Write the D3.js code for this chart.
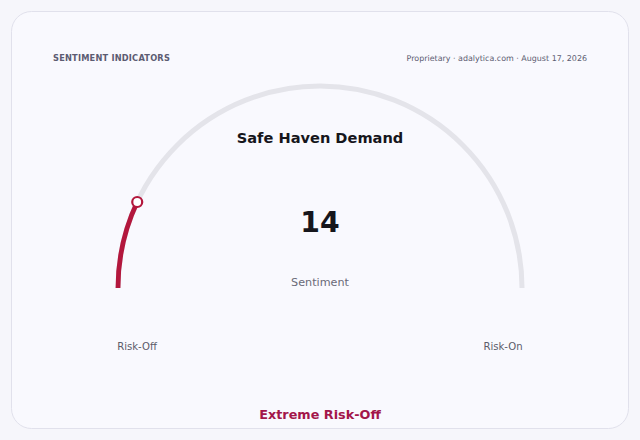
<!DOCTYPE html>
<html><head><meta charset="utf-8">
<script src="https://cdn.jsdelivr.net/npm/d3@7"></script>
<style>
html,body{margin:0;padding:0;background:#f6f6fb;}
svg{display:block;font-family:"DejaVu Sans",sans-serif;}
</style></head>
<body><svg id="c" width="640" height="440"></svg>
<script>
const title = "Safe Haven Demand";
const value = [14];
const domain = [0, 100];
const endLabels = ["Risk-Off", "Risk-On"];
const metricLabel = ["Sentiment"];
const zoneLabel = ["Extreme Risk-Off"];
const header = ["SENTIMENT INDICATORS", "Proprietary · adalytica.com · August 17, 2026"];

const svg = d3.select("#c");
svg.append("rect").attr("x",11.5).attr("y",11.5).attr("width",617).attr("height",417)
  .attr("rx",20).attr("fill","#f9f9fe").attr("stroke","#e1e1ec").attr("stroke-width",1);

svg.append("text").attr("x",53).attr("y",61).attr("font-size",8.25).attr("font-weight","bold")
  .attr("fill","#5c5c72").attr("letter-spacing",0.2).text(header[0]);
svg.append("text").attr("x",587).attr("y",61).attr("font-size",7.95).attr("text-anchor","end")
  .attr("fill","#5c5c72").text(header[1]);

const cx = 320, cy = 288, r = 202;
const ang = d3.scaleLinear().domain(domain).range([-Math.PI/2, Math.PI/2]);
const g = svg.append("g").attr("transform",`translate(${cx},${cy})`);
const arc = d3.arc().innerRadius(r).outerRadius(r);
g.append("path").attr("d", arc({startAngle:ang(domain[0]), endAngle:ang(domain[1])}))
  .attr("fill","none").attr("stroke","#e4e4ea").attr("stroke-width",5).attr("stroke-linecap","round");
g.append("path").attr("d", arc({startAngle:ang(domain[0]), endAngle:ang(value[0])}))
  .attr("fill","none").attr("stroke","#b3173d").attr("stroke-width",4.8).attr("stroke-linecap","round");
const a = ang(value[0]);
g.append("circle").attr("cx", r*Math.sin(a)).attr("cy", -r*Math.cos(a)).attr("r",5)
  .attr("fill","#ffffff").attr("stroke","#b3173d").attr("stroke-width",2.2);

svg.append("text").attr("x",cx).attr("y",143).attr("text-anchor","middle").attr("font-size",14.6)
  .attr("font-weight","bold").attr("fill","#16161c").text(title);
svg.append("text").attr("x",cx).attr("y",232).attr("text-anchor","middle").attr("font-size",28.3)
  .attr("font-weight","bold").attr("fill","#16161c").text(value[0]);
svg.append("text").attr("x",cx).attr("y",286).attr("text-anchor","middle").attr("font-size",11.2)
  .attr("fill","#6a6a78").text(metricLabel[0]);
svg.append("text").attr("x",137).attr("y",350).attr("text-anchor","middle").attr("font-size",10.1)
  .attr("fill","#5c5c6a").text(endLabels[0]);
svg.append("text").attr("x",503).attr("y",350).attr("text-anchor","middle").attr("font-size",10.1)
  .attr("fill","#5c5c6a").text(endLabels[1]);
svg.append("text").attr("x",cx).attr("y",419).attr("text-anchor","middle").attr("font-size",12.8)
  .attr("font-weight","bold").attr("fill","#a3164a").text(zoneLabel[0]);
</script></body></html>
